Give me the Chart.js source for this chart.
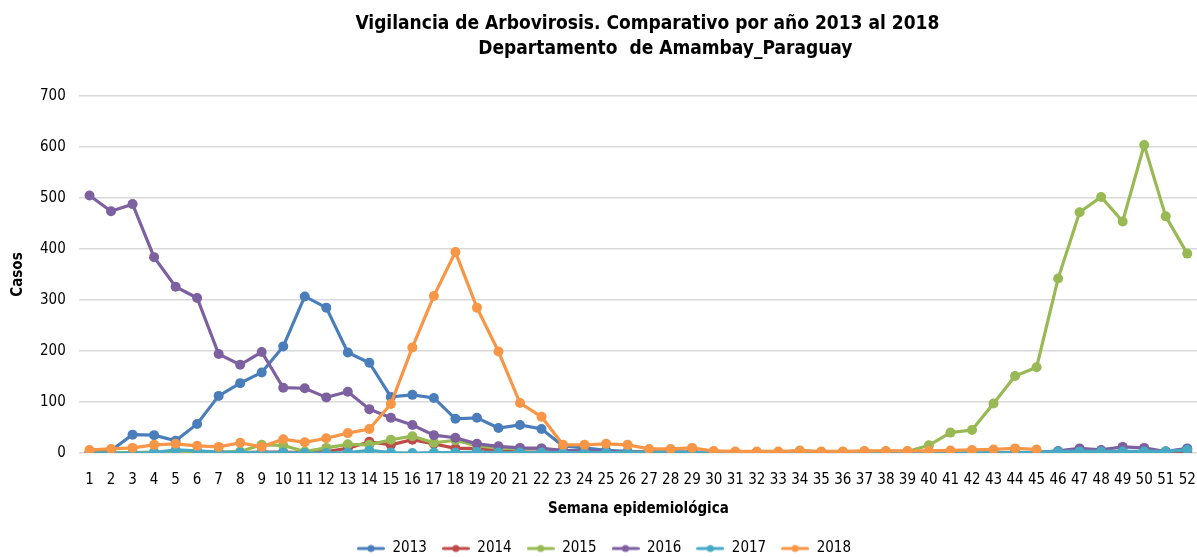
<!DOCTYPE html>
<html lang="es">
<head>
<meta charset="UTF-8">
<title>Vigilancia de Arbovirosis - Amambay</title>
<script src="https://cdn.jsdelivr.net/npm/chart.js"></script>
<style>
    html, body { margin: 0; padding: 0; background: #fff; overflow: hidden; }
    #wrap { width: 1203px; height: 557px; position: relative; }
    #wrap canvas { display: block; }
</style>
</head>
<body>
<div id="wrap"><canvas id="chart"></canvas></div>
<script>
// semanas epidemiologicas 1..52
const weeks = Array.from({ length: 52 }, (_, i) => String(i + 1));
const years = ['2013', '2014', '2015', '2016', '2017', '2018'];
const colors = ['#4A7EBB', '#BE4B48', '#98B954', '#7D60A0', '#46AAC5', '#F79646'];

const cases2013 = [0, 5, 36, 35, 24, 57, 112, 137, 158, 209, 307, 285, 197, 177, 110, 114, 108, 67, 69, 49,
    55, 47, 14, 10, 5, 3, 2, 2, 1, 1, 1, 1, 1, 1, 1, 1, 1, 1, 1, 1,
    1, 1, 1, 1, 1, 3, 3, 2, 3, 2, 3, 9];
const cases2014 = [0, 0, 0, 0, 2, 2, 1, 1, 2, 2, 1, 3, 9, 22, 16, 26, 18, 9, 9, 4,
    2, 2, 1, 1, 1, 1, 1, 1, 1, 1, 1, 1, 1, 1, 1, 1, 1, 1, 1, 1,
    1, 1, 1, 1, 1, 1, 1, 1, 1, 1, 1, 2];
const cases2015 = [0, 0, 1, 2, 0, 1, 2, 3, 16, 15, 3, 10, 17, 16, 26, 33, 20, 25, 14, 10,
    8, 9, 3, 3, 2, 2, 2, 2, 2, 1, 1, 1, 1, 5, 2, 2, 3, 3, 3, 15,
    40, 45, 97, 151, 168, 342, 472, 502, 454, 604, 464, 391];
const cases2016 = [505, 474, 488, 384, 326, 304, 194, 173, 198, 128, 127, 109, 120, 86, 69, 55, 35, 30, 18, 13,
    10, 9, 5, 4, 3, 2, 2, 2, 2, 1, 1, 1, 1, 1, 1, 1, 1, 1, 1, 1,
    1, 1, 1, 1, 1, 4, 9, 6, 12, 10, 3, 8];
const cases2017 = [0, 0, 0, 1, 6, 4, 2, 1, 1, 1, 0, 0, 1, 5, 1, 0, 1, 1, 2, 1,
    1, 1, 1, 1, 1, 1, 1, 1, 1, 1, 1, 1, 1, 1, 1, 1, 1, 1, 1, 1,
    1, 1, 1, 1, 1, 3, 3, 3, 3, 3, 3, 6];
const cases2018 = [6, 8, 10, 16, 18, 14, 12, 20, 12, 27, 21, 29, 39, 47, 96, 207, 308, 394, 285, 199,
    98, 71, 16, 16, 18, 16, 8, 8, 10, 4, 3, 3, 3, 4, 3, 3, 4, 4, 4, 4,
    5, 6, 7, 9, 7, null, null, null, null, null, null, null];
const series = [cases2013, cases2014, cases2015, cases2016, cases2017, cases2018];

const yTicks = [0, 100, 200, 300, 400, 500, 600, 700];
const titleLines = ['Vigilancia de Arbovirosis. Comparativo por año 2013 al 2018', 'Departamento  de Amambay_Paraguay'];

const FONT = "'DejaVu Sans Condensed', 'DejaVu Sans', sans-serif";

// legend marker: short line with a dot, like the spreadsheet legend
function legendMarker(color) {
    const c = document.createElement('canvas');
    c.width = 28; c.height = 10;
    const g = c.getContext('2d');
    g.strokeStyle = color; g.lineWidth = 3; g.lineCap = 'round';
    g.beginPath(); g.moveTo(1.5, 5); g.lineTo(26.5, 5); g.stroke();
    g.fillStyle = color;
    g.beginPath(); g.arc(14, 5, 3.5, 0, Math.PI * 2); g.fill();
    return c;
}

// the two title lines are not centred on the same x in the original, so draw them here
const titlePlugin = {
    id: 'titleLines',
    afterDraw(chart) {
        const ctx = chart.ctx;
        const mid = (chart.chartArea.left + chart.chartArea.right) / 2;
        ctx.save();
        ctx.fillStyle = '#000';
        ctx.font = 'bold 19px ' + FONT;
        ctx.textAlign = 'center';
        ctx.textBaseline = 'middle';
        ctx.fillText(titleLines[0], mid + 9, 24);
        ctx.fillText(titleLines[1], mid + 27, 49);
        ctx.restore();
    }
};

const datasets = years.map((y, i) => ({
    label: y,
    data: series[i],
    borderColor: colors[i],
    backgroundColor: colors[i],
    pointBackgroundColor: colors[i],
    pointBorderColor: colors[i],
    borderWidth: 3.2,
    pointRadius: 5,
    pointBorderWidth: 0,
    tension: 0,
    spanGaps: false,
    order: years.length - i
}));

new Chart(document.getElementById('chart'), {
    type: 'line',
    data: { labels: weeks, datasets: datasets },
    plugins: [titlePlugin],
    options: {
        responsive: true,
        maintainAspectRatio: false,
        animation: false,
        layout: { padding: { top: 96, right: 0, left: 5, bottom: -9 } },
        plugins: {
            title: { display: false },
            legend: {
                position: 'bottom',
                labels: {
                    color: '#000',
                    font: { family: FONT, size: 15 },
                    usePointStyle: true,
                    pointStyleWidth: 28,
                    boxHeight: 10,
                    padding: 15,
                    sort: (a, b) => a.datasetIndex - b.datasetIndex,
                    generateLabels: chart => chart.data.datasets.map((ds, i) => ({
                        text: ds.label,
                        datasetIndex: i,
                        fillStyle: ds.borderColor,
                        strokeStyle: ds.borderColor,
                        fontColor: '#000',
                        lineWidth: 0,
                        hidden: false,
                        pointStyle: legendMarker(ds.borderColor)
                    }))
                }
            },
            tooltip: { enabled: false }
        },
        scales: {
            x: {
                offset: true,
                grid: {
                    display: true,
                    drawOnChartArea: false,
                    drawTicks: true,
                    tickLength: 16,
                    tickColor: 'rgba(0,0,0,0)'
                },
                border: { display: false },
                ticks: {
                    color: '#000',
                    font: { family: FONT, size: 15 },
                    autoSkip: false,
                    maxRotation: 0,
                    padding: 2
                },
                title: {
                    display: true,
                    text: 'Semana epidemiológica',
                    color: '#000',
                    font: { family: FONT, size: 15, weight: 'bold' },
                    padding: { top: 9, bottom: 8 }
                }
            },
            y: {
                min: 0,
                max: 700,
                afterBuildTicks: axis => { axis.ticks = yTicks.map(v => ({ value: v })); },
                grid: { color: '#D9D9D9', lineWidth: 1.5, drawTicks: false },
                border: { display: false },
                ticks: {
                    color: '#000',
                    font: { family: FONT, size: 15 },
                    padding: 13
                },
                title: {
                    display: true,
                    text: 'Casos',
                    color: '#000',
                    font: { family: FONT, size: 15, weight: 'bold' },
                    padding: { bottom: 0 }
                }
            }
        }
    }
});
</script>
</body>
</html>
